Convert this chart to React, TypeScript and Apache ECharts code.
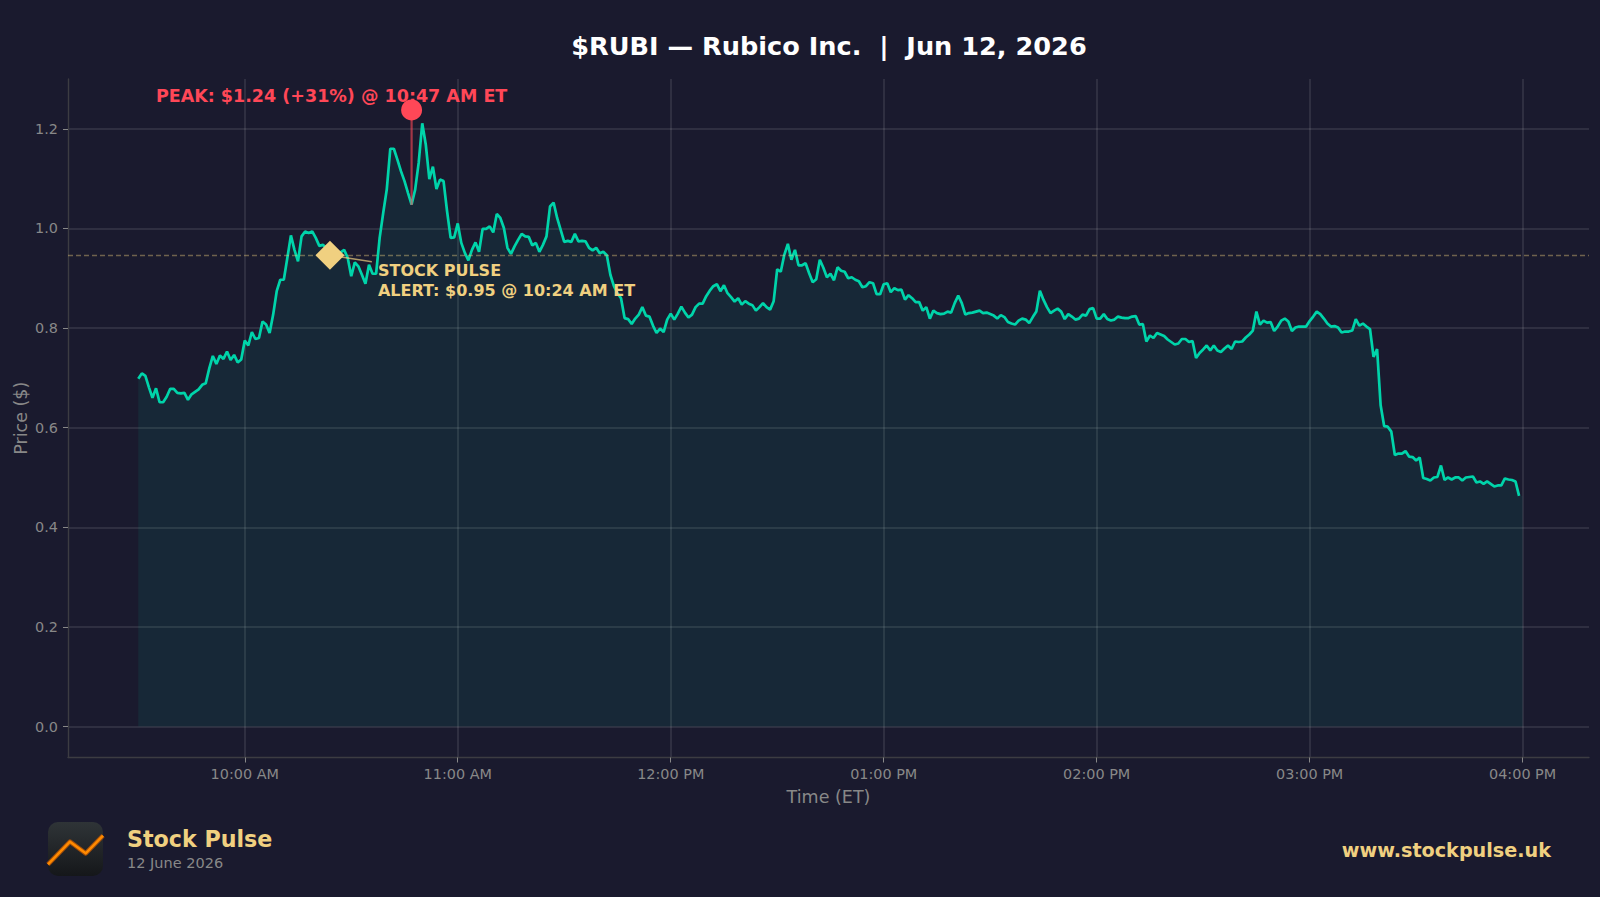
import { useEffect, useRef } from 'react';
import * as echarts from 'echarts';

const startMinute = 570; // 09:30 in minutes from midnight

// one price per minute, 09:30 to 15:59
const prices = [
    0.698, 0.709, 0.704, 0.681, 0.660, 0.679, 0.651, 0.651, 0.662, 0.678,
    0.678, 0.670, 0.669, 0.670, 0.656, 0.667, 0.672, 0.677, 0.686, 0.689,
    0.719, 0.744, 0.728, 0.745, 0.738, 0.753, 0.736, 0.746, 0.731, 0.737,
    0.775, 0.765, 0.792, 0.778, 0.780, 0.813, 0.807, 0.790, 0.827, 0.874,
    0.897, 0.897, 0.941, 0.986, 0.957, 0.934, 0.984, 0.994, 0.991, 0.994,
    0.981, 0.965, 0.967, 0.961, 0.954, 0.944, 0.947, 0.952, 0.957, 0.941,
    0.904, 0.932, 0.924, 0.907, 0.889, 0.927, 0.909, 0.909, 0.981, 1.031,
    1.078, 1.160, 1.160, 1.138, 1.115, 1.095, 1.071, 1.048, 1.078, 1.132,
    1.211, 1.168, 1.099, 1.124, 1.079, 1.098, 1.095, 1.034, 0.981, 0.982,
    1.010, 0.971, 0.951, 0.936, 0.957, 0.972, 0.953, 0.999, 0.999, 1.004,
    0.992, 1.029, 1.021, 1.001, 0.961, 0.949, 0.964, 0.977, 0.989, 0.984,
    0.983, 0.966, 0.971, 0.953, 0.967, 0.984, 1.044, 1.052, 1.021, 0.997,
    0.973, 0.975, 0.973, 0.989, 0.974, 0.975, 0.974, 0.961, 0.956, 0.961,
    0.950, 0.953, 0.946, 0.907, 0.884, 0.870, 0.860, 0.820, 0.818, 0.808,
    0.819, 0.827, 0.842, 0.825, 0.823, 0.805, 0.790, 0.799, 0.792, 0.817,
    0.829, 0.817, 0.829, 0.843, 0.831, 0.821, 0.827, 0.842, 0.849, 0.849,
    0.864, 0.875, 0.884, 0.888, 0.874, 0.886, 0.870, 0.862, 0.853, 0.860,
    0.847, 0.854, 0.849, 0.846, 0.835, 0.842, 0.850, 0.842, 0.837, 0.854,
    0.918, 0.913, 0.947, 0.969, 0.937, 0.957, 0.926, 0.926, 0.930, 0.910,
    0.892, 0.898, 0.937, 0.921, 0.902, 0.909, 0.896, 0.922, 0.915, 0.913,
    0.900, 0.902, 0.897, 0.894, 0.882, 0.884, 0.892, 0.890, 0.868, 0.868,
    0.888, 0.890, 0.872, 0.880, 0.876, 0.877, 0.857, 0.866, 0.860, 0.852,
    0.852, 0.835, 0.842, 0.819, 0.835, 0.830, 0.828, 0.829, 0.833, 0.831,
    0.850, 0.865, 0.850, 0.827, 0.830, 0.831, 0.833, 0.835, 0.830, 0.831,
    0.828, 0.825, 0.819, 0.826, 0.822, 0.812, 0.809, 0.807, 0.815, 0.819,
    0.817, 0.810, 0.822, 0.833, 0.875, 0.857, 0.842, 0.830, 0.835, 0.839,
    0.833, 0.818, 0.828, 0.823, 0.817, 0.819, 0.827, 0.825, 0.838, 0.840,
    0.819, 0.819, 0.828, 0.818, 0.815, 0.817, 0.823, 0.821, 0.820, 0.820,
    0.823, 0.824, 0.807, 0.808, 0.773, 0.785, 0.780, 0.790, 0.787, 0.784,
    0.777, 0.772, 0.767, 0.769, 0.778, 0.778, 0.772, 0.774, 0.740, 0.750,
    0.757, 0.765, 0.755, 0.765, 0.755, 0.752, 0.759, 0.765, 0.758, 0.773,
    0.772, 0.773, 0.781, 0.787, 0.795, 0.833, 0.807, 0.815, 0.811, 0.812,
    0.794, 0.803, 0.815, 0.819, 0.813, 0.794, 0.801, 0.803, 0.803, 0.803,
    0.814, 0.823, 0.833, 0.828, 0.819, 0.809, 0.803, 0.804, 0.801, 0.791,
    0.793, 0.793, 0.795, 0.818, 0.805, 0.809, 0.803, 0.798, 0.742, 0.758,
    0.645, 0.603, 0.602, 0.592, 0.545, 0.548, 0.548, 0.553, 0.542, 0.541,
    0.534, 0.540, 0.499, 0.497, 0.494, 0.500, 0.501, 0.524, 0.495, 0.500,
    0.496, 0.500, 0.500, 0.494, 0.500, 0.501, 0.502, 0.490, 0.492, 0.487,
    0.492, 0.487, 0.482, 0.484, 0.484, 0.498, 0.496, 0.495, 0.492, 0.463,
];

const timeTicks = [600, 660, 720, 780, 840, 900, 960];
const timeLabels = ['10:00 AM', '11:00 AM', '12:00 PM', '01:00 PM', '02:00 PM', '03:00 PM', '04:00 PM'];
const priceTicks = [0, 0.2, 0.4, 0.6, 0.8, 1.0, 1.2];

const peakPoint = [647, 1.238];
const peakStemEnd = [647, 1.047];
const alertPoint = [624, 0.946];
const alertLinkEnd = [635.8, 0.933];

const fontFamily = "'DejaVu Sans', sans-serif";
const bg = '#1a1a2e';
const gold = '#f0d080';
const red = '#ff4757';
const teal = '#00d4aa';
const muted = '#888888';
const gridColor = 'rgba(255,255,255,0.13)';

const logoLine = [[48, 864.3], [70, 841.7], [85.7, 853.3], [103, 835.7]];

export default function App() {
    const chartRef = useRef<HTMLDivElement>(null);

    useEffect(() => {
        if (!chartRef.current) return;
        const chart = echarts.init(chartRef.current, undefined, { renderer: 'svg' });

        const linePoints = prices.map((p, i) => [startMinute + i, p]);
        // the shaded area runs on to the 16:00 tick, one step past the line
        const areaPoints = [...linePoints, [startMinute + prices.length, prices[prices.length - 1]]];

        const option: any = {
            animation: false,
            backgroundColor: bg,
            textStyle: { fontFamily },
            title: {
                text: '$RUBI — Rubico Inc.  |  Jun 12, 2026',
                left: 824,
                top: 41,
                textAlign: 'center',
                textVerticalAlign: 'middle',
                textStyle: { color: '#ffffff', fontSize: 25.6, fontWeight: 'bold', fontFamily },
            },
            // echarts 6 would shrink the grid to fit the labels otherwise
            grid: { left: 68, top: 79, width: 1521, height: 678.5, outerBoundsMode: 'none' },
            xAxis: {
                type: 'value',
                min: 550.2,
                max: 978.7,
                name: 'Time (ET)',
                nameLocation: 'middle',
                nameGap: 30,
                nameTextStyle: { color: muted, fontSize: 17.5, fontFamily },
                axisLine: { onZero: false, lineStyle: { color: '#3c3c42', width: 1.4 } },
                axisTick: { customValues: timeTicks, length: 5, lineStyle: { color: muted } },
                axisLabel: {
                    customValues: timeTicks,
                    color: muted,
                    fontSize: 14.4,
                    fontFamily,
                    margin: 9,
                    formatter: (v: number) => timeLabels[timeTicks.indexOf(v)],
                },
                splitLine: { show: true, lineStyle: { color: gridColor, width: 1.5 } },
            },
            yAxis: {
                type: 'value',
                min: -0.0622,
                max: 1.3,
                name: 'Price ($)',
                nameLocation: 'middle',
                nameGap: 38,
                nameMoveOverlap: false, // the name sits close to the tick labels
                nameTextStyle: { color: muted, fontSize: 17.5, fontFamily },
                axisLine: { show: true, onZero: false, lineStyle: { color: '#3c3c42', width: 1.4 } },
                axisTick: { show: true, customValues: priceTicks, length: 5, lineStyle: { color: muted } },
                axisLabel: {
                    customValues: priceTicks,
                    color: muted,
                    fontSize: 14.4,
                    fontFamily,
                    margin: 10,
                    formatter: (v: number) => v.toFixed(1),
                },
                splitLine: { show: true, lineStyle: { color: gridColor, width: 1.5 } },
            },
            series: [
                {
                    name: 'Area',
                    type: 'line',
                    data: areaPoints,
                    symbol: 'none',
                    lineStyle: { width: 0, opacity: 0 },
                    areaStyle: { color: 'rgba(0,212,170,0.08)', opacity: 1 },
                    z: 2,
                    markLine: {
                        silent: true,
                        symbol: 'none',
                        precision: 3,
                        label: { show: false },
                        lineStyle: { color: 'rgba(240,208,128,0.4)', type: [5, 3], width: 1.3 },
                        data: [{ yAxis: alertPoint[1] }],
                    },
                },
                {
                    name: 'Price',
                    type: 'line',
                    data: linePoints,
                    symbol: 'none',
                    lineStyle: { color: teal, width: 2.7 },
                    z: 3,
                },
                {
                    name: 'Peak stem',
                    type: 'line',
                    data: [peakStemEnd, peakPoint],
                    symbol: 'none',
                    lineStyle: { color: 'rgba(255,71,87,0.6)', width: 2.2 },
                    z: 4,
                },
                {
                    name: 'Alert link',
                    type: 'line',
                    data: [alertPoint, alertLinkEnd],
                    symbol: 'none',
                    lineStyle: { color: 'rgba(240,208,128,0.7)', width: 1.5 },
                    z: 4,
                },
                {
                    name: 'Peak',
                    type: 'scatter',
                    data: [peakPoint],
                    symbol: 'circle',
                    symbolSize: 21,
                    itemStyle: { color: red, opacity: 1 },
                    label: {
                        show: true,
                        position: 'inside',
                        offset: [-80, -14],
                        formatter: 'PEAK: $1.24 (+31%) @ 10:47 AM ET',
                        color: red,
                        fontSize: 17.5,
                        fontWeight: 'bold',
                        fontFamily,
                    },
                    z: 5,
                },
                {
                    name: 'Alert',
                    type: 'scatter',
                    data: [alertPoint],
                    symbol: 'diamond',
                    symbolSize: 29,
                    itemStyle: { color: gold, opacity: 1 },
                    label: {
                        show: true,
                        position: 'inside',
                        align: 'left',
                        verticalAlign: 'middle',
                        offset: [48, 25],
                        lineHeight: 20,
                        formatter: 'STOCK PULSE\nALERT: $0.95 @ 10:24 AM ET',
                        color: gold,
                        fontSize: 16,
                        fontWeight: 'bold',
                        fontFamily,
                    },
                    z: 5,
                },
            ],
            graphic: [
                {
                    type: 'rect',
                    shape: { x: 48, y: 822, width: 55, height: 54, r: 10 },
                    style: {
                        fill: new echarts.graphic.LinearGradient(0, 0, 0, 1, [
                            { offset: 0, color: '#2f3437' },
                            { offset: 1, color: '#15171a' },
                        ]),
                    },
                },
                {
                    type: 'polyline',
                    shape: { points: logoLine },
                    style: { stroke: 'rgba(200,90,0,0.75)', lineWidth: 4.6, fill: 'none', lineJoin: 'round' },
                },
                {
                    type: 'polyline',
                    shape: { points: logoLine },
                    style: { stroke: '#ff8a00', lineWidth: 2.6, fill: 'none', lineJoin: 'round' },
                },
                {
                    type: 'text',
                    x: 127,
                    y: 839,
                    style: {
                        text: 'Stock Pulse',
                        fill: gold,
                        font: `bold 22.2px ${fontFamily}`,
                        textVerticalAlign: 'middle',
                    },
                },
                {
                    type: 'text',
                    x: 127,
                    y: 862.5,
                    style: {
                        text: '12 June 2026',
                        fill: muted,
                        font: `14.5px ${fontFamily}`,
                        textVerticalAlign: 'middle',
                    },
                },
                {
                    type: 'text',
                    x: 1551,
                    y: 850,
                    style: {
                        text: 'www.stockpulse.uk',
                        fill: gold,
                        font: `bold 19.2px ${fontFamily}`,
                        textAlign: 'right',
                        textVerticalAlign: 'middle',
                    },
                },
            ],
        };

        chart.setOption(option);
        return () => chart.dispose();
    }, []);

    return <div ref={chartRef} style={{ position: 'fixed', left: 0, top: 0, width: 1600, height: 897 }} />;
}
